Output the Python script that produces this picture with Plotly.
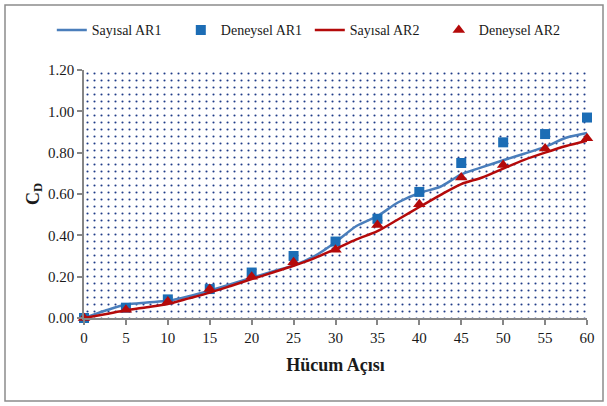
import plotly.graph_objects as go

# Angle of attack (deg) for experimental points
angle_exp = [0, 5, 10, 15, 20, 25, 30, 35, 40, 45, 50, 55, 60]
deneysel_ar1 = [0.00, 0.05, 0.09, 0.14, 0.22, 0.30, 0.37, 0.48, 0.61, 0.75, 0.85, 0.89, 0.97]
deneysel_ar2 = [0.00, 0.04, 0.08, 0.14, 0.20, 0.27, 0.33, 0.45, 0.55, 0.68, 0.74, 0.82, 0.87]

# Numerical results on a finer angle grid
angle_num = [0, 2.5, 5, 7.5, 10, 12.5, 15, 17.5, 20, 22.5, 25, 27.5, 30,
             32.5, 35, 37.5, 40, 42.5, 45, 47.5, 50, 52.5, 55, 57.5, 60]
sayisal_ar1 = [0.000, 0.035, 0.065, 0.075, 0.083, 0.105, 0.133, 0.163, 0.195,
               0.225, 0.255, 0.300, 0.367, 0.445, 0.493, 0.560, 0.605, 0.635,
               0.695, 0.730, 0.763, 0.795, 0.828, 0.872, 0.895]
sayisal_ar2 = [0.000, 0.018, 0.037, 0.052, 0.068, 0.095, 0.123, 0.155, 0.188,
               0.220, 0.253, 0.290, 0.334, 0.380, 0.420, 0.478, 0.537, 0.595,
               0.648, 0.680, 0.723, 0.765, 0.800, 0.832, 0.858]

x_ticks = list(range(0, 61, 5))
y_ticks = [0.0, 0.2, 0.4, 0.6, 0.8, 1.0, 1.2]
x_range = [0, 60]
y_range = [0, 1.2]

FONT = "'Liberation Serif', 'Times New Roman', serif"
BLUE_LINE = "#4A7EBB"
BLUE_MARK = "#1C6DB5"
RED = "#B40A0A"
AXIS = "#868686"

fig = go.Figure()

# Dotted plot-area background
fig.add_trace(go.Scatter(
    x=[x_range[0], x_range[1], x_range[1], x_range[0], x_range[0]],
    y=[y_range[0], y_range[0], y_range[1], y_range[1], y_range[0]],
    mode="none", fill="toself", fillcolor="rgba(255,255,255,0)",
    fillpattern=dict(shape=".", size=7, solidity=0.07,
                     fgcolor="#1F3C88", bgcolor="white", fillmode="replace"),
    showlegend=False, hoverinfo="skip"))

fig.add_trace(go.Scatter(
    x=angle_num, y=sayisal_ar1, name="Sayısal AR1", mode="lines",
    line=dict(color=BLUE_LINE, width=2.5, shape="spline", smoothing=0.8),
    cliponaxis=False))
fig.add_trace(go.Scatter(
    x=angle_exp, y=deneysel_ar1, name="Deneysel AR1", mode="markers",
    marker=dict(symbol="square", size=10, color=BLUE_MARK), cliponaxis=False))
fig.add_trace(go.Scatter(
    x=angle_num, y=sayisal_ar2, name="Sayısal AR2", mode="lines",
    line=dict(color=RED, width=2.5, shape="spline", smoothing=0.8),
    cliponaxis=False))
fig.add_trace(go.Scatter(
    x=angle_exp, y=deneysel_ar2, name="Deneysel AR2", mode="markers",
    marker=dict(symbol="triangle-up", size=11, color=RED), cliponaxis=False))

fig.update_layout(
    width=607, height=406,
    margin=dict(l=84, r=20, t=70, b=88),
    paper_bgcolor="white", plot_bgcolor="white",
    font=dict(family=FONT, size=14, color="#1a1a1a"),
    showlegend=True,
    legend=dict(orientation="h", x=-0.064, xanchor="left", y=1.16, yanchor="middle",
                font=dict(family=FONT, size=14), itemwidth=30,
                entrywidth=84, entrywidthmode="pixels",
                bgcolor="rgba(0,0,0,0)"),
    shapes=[dict(type="rect", xref="paper", yref="paper",
                 x0=-79/503, x1=1 + 16/503, y0=-83/248, y1=1 + 65/248,
                 line=dict(color="#8c8c8c", width=1.5), layer="below")],
)

fig.update_xaxes(
    range=x_range, tickvals=x_ticks, ticktext=[str(v) for v in x_ticks],
    showgrid=False, zeroline=False, showline=True, linecolor=AXIS, linewidth=1.5,
    ticks="outside", ticklen=5, tickcolor=AXIS, tickwidth=1.5,
    tickfont=dict(family=FONT, size=15),
    title=dict(text="<b>Hücum Açısı</b>", font=dict(family=FONT, size=18), standoff=14))
fig.update_yaxes(
    range=y_range, tickvals=y_ticks, ticktext=[f"{v:.2f}" for v in y_ticks],
    showgrid=False, zeroline=False, showline=True, linecolor=AXIS, linewidth=1.5,
    ticks="outside", ticklen=5, tickcolor=AXIS, tickwidth=1.5,
    tickfont=dict(family=FONT, size=15),
    title=dict(text="<b>C<sub>D</sub></b>", font=dict(family=FONT, size=18), standoff=4))

fig.write_html("out.html")
